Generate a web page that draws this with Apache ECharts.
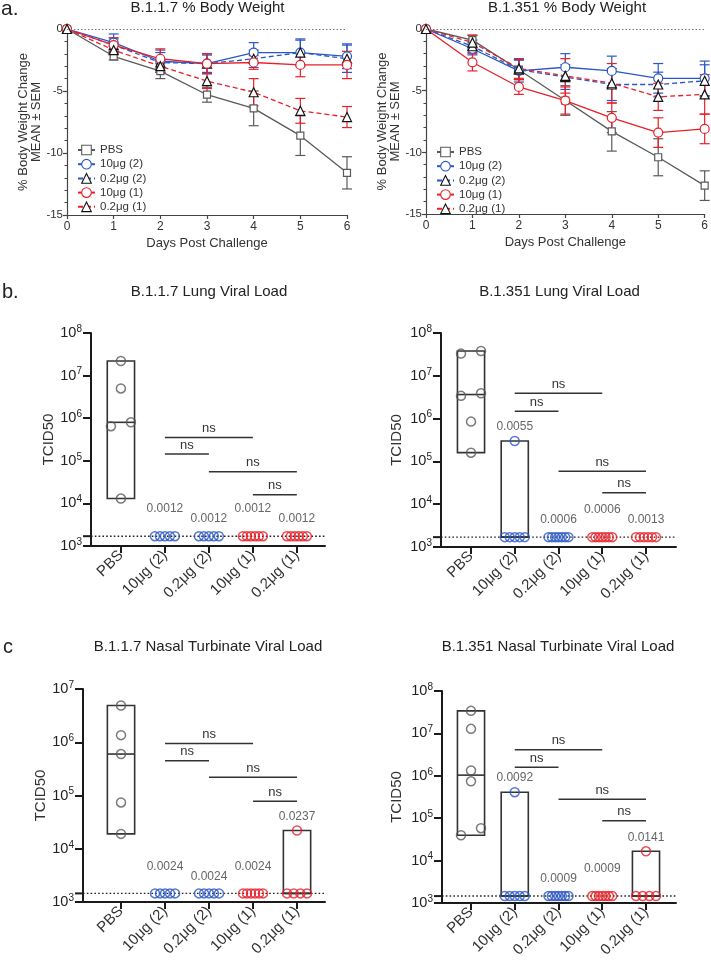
<!DOCTYPE html>
<html><head><meta charset="utf-8">
<script src="https://cdn.jsdelivr.net/npm/echarts@6/dist/echarts.min.js"></script>
<style>html,body{margin:0;padding:0;background:#fff}#c{width:711px;height:960px}</style>
</head><body><div id="c"></div>
<script>
// ---------------- data ----------------
const days = [0, 1, 2, 3, 4, 5, 6];
const groupNames = ['PBS', '10μg (2)', '0.2μg (2)', '10μg (1)', '0.2μg (1)'];

// B.1.1.7 % body weight (mean, SEM)
const bw117PBS = [0, -2.2, -3.4, -5.3, -6.4, -8.6, -11.6];
const bw117PBSsem = [0, 0.3, 0.6, 0.6, 1.4, 1.6, 1.3];
const bw117H2 = [0, -1.1, -2.6, -2.8, -1.9, -1.9, -2.2];
const bw117H2sem = [0, 0.7, 0.9, 0.8, 0.8, 1.1, 1.0];
const bw117L2 = [0, -1.3, -2.7, -2.8, -2.4, -1.9, -2.4];
const bw117L2sem = [0, 0.5, 0.8, 0.7, 0.7, 1.0, 1.1];
const bw117H1 = [0, -1.3, -2.4, -2.8, -2.7, -2.9, -2.9];
const bw117H1sem = [0, 0.6, 0.8, 0.8, 0.55, 0.95, 1.1];
const bw117L1 = [0, -1.7, -3.0, -4.2, -5.1, -6.6, -7.1];
const bw117L1sem = [0, 0.3, 0.5, 0.6, 1.1, 1.0, 0.85];

// B.1.351 % body weight (mean, SEM)
const bw351PBS = [0, -0.9, -3.3, -5.8, -8.3, -10.4, -12.7];
const bw351PBSsem = [0, 0.4, 0.8, 1.2, 1.6, 1.5, 1.2];
const bw351H2 = [0, -1.6, -3.4, -3.1, -3.4, -4.0, -4.0];
const bw351H2sem = [0, 0.5, 0.9, 1.1, 1.2, 1.2, 1.4];
const bw351L2 = [0, -1.4, -3.3, -3.9, -4.5, -4.5, -4.2];
const bw351L2sem = [0, 0.5, 0.8, 1.0, 1.3, 1.0, 1.3];
const bw351H1 = [0, -2.7, -4.7, -5.8, -7.2, -8.4, -8.1];
const bw351H1sem = [0, 0.7, 0.6, 1.1, 1.2, 1.2, 1.2];
const bw351L1 = [0, -1.1, -3.2, -3.8, -4.4, -5.5, -5.3];
const bw351L1sem = [0, 0.6, 0.8, 1.4, 1.6, 1.1, 1.6];

// detection limits
const lodLung = 1700;
const lodNasal = 1450;

// B.1.1.7 lung TCID50
const lung117PBS = [2.2e7, 5.0e6, 8.0e5, 6.5e5, 1.3e4];
const lung117H2 = [1700, 1700, 1700, 1700, 1700];
const lung117L2 = [1700, 1700, 1700, 1700, 1700];
const lung117H1 = [1700, 1700, 1700, 1700, 1700, 1700];
const lung117L1 = [1700, 1700, 1700, 1700, 1700, 1700];
const lung117P = ['', '0.0012', '0.0012', '0.0012', '0.0012'];
const lung117NS = [[1, 3, 3.5e5], [1, 2, 1.44e5], [2, 4, 5.5e4], [3, 4, 1.6e4]];

// B.1.351 lung TCID50
const lung351PBS = [3.3e7, 3.8e7, 3.4e6, 3.9e6, 8.5e5, 1.6e5];
const lung351H2 = [3.0e5, 1700, 1700, 1700, 1700, 1700];
const lung351L2 = [1700, 1700, 1700, 1700, 1700, 1700, 1700];
const lung351H1 = [1700, 1700, 1700, 1700, 1700, 1700, 1700];
const lung351L1 = [1700, 1700, 1700, 1700, 1700, 1700];
const lung351P = ['', '0.0055', '0.0006', '0.0006', '0.0013'];
const lung351NS = [[1, 3, 3.9e6], [1, 2, 1.48e6], [2, 4, 5.9e4], [3, 4, 1.86e4]];

// B.1.1.7 nasal turbinate TCID50
const nasal117PBS = [4.9e6, 1.36e6, 6.0e5, 7.4e4, 1.9e4];
const nasal117H2 = [1450, 1450, 1450, 1450, 1450];
const nasal117L2 = [1450, 1450, 1450, 1450, 1450];
const nasal117H1 = [1450, 1450, 1450, 1450, 1450, 1450];
const nasal117L1 = [2.2e4, 1450, 1450, 1450, 1450];
const nasal117P = ['', '0.0024', '0.0024', '0.0024', '0.0237'];
const nasal117NS = [[1, 3, 9.5e5], [1, 2, 4.47e5], [2, 4, 2.2e5], [3, 4, 7.8e4]];

// B.1.351 nasal turbinate TCID50
const nasal351PBS = [3.4e7, 1.28e7, 1.33e6, 7.4e5, 5.8e4, 3.95e4];
const nasal351H2 = [4.1e5, 1450, 1450, 1450, 1450, 1450];
const nasal351L2 = [1450, 1450, 1450, 1450, 1450, 1450, 1450];
const nasal351H1 = [1450, 1450, 1450, 1450, 1450, 1450, 1450];
const nasal351L1 = [1.65e4, 1450, 1450, 1450, 1450];
const nasal351P = ['', '0.0092', '0.0009', '0.0009', '0.0141'];
const nasal351NS = [[1, 3, 4.1e6], [1, 2, 1.58e6], [2, 4, 2.8e5], [3, 4, 8.7e4]];

// ---------------- styles ----------------
const FONT = '"Liberation Sans", Arial, Helvetica, sans-serif';
const GRAY = '#5a5a5a', BLUE = '#2a57c4', RED = '#e8202a', INK = '#1a1a1a', TXT = '#333';
const lineLook = [
  { color: GRAY, symbol: 'rect', size: 7, dash: 'solid', border: GRAY },
  { color: BLUE, symbol: 'circle', size: 9, dash: 'solid', border: BLUE },
  { color: BLUE, symbol: 'triangle', size: 9, dash: [5, 3], border: '#111' },
  { color: RED, symbol: 'circle', size: 9, dash: 'solid', border: RED },
  { color: RED, symbol: 'triangle', size: 9, dash: [5, 3], border: '#111' }
];
const groupColors = [GRAY, BLUE, BLUE, RED, RED];

const grids = [
  { left: 67, top: 29, width: 280, height: 186 },
  { left: 426, top: 29, width: 281, height: 185 },
  { left: 91, top: 333, width: 234, height: 213 },
  { left: 441, top: 333, width: 235, height: 214 },
  { left: 83, top: 689, width: 242, height: 213 },
  { left: 442, top: 691, width: 234, height: 213 }
];

// ---------------- builders ----------------
function bwSeries(gi, sets) {
  const out = [];
  sets.forEach(([m, s], k) => {
    const st = lineLook[k];
    out.push({
      type: 'custom', name: 'err' + gi + '-' + k, xAxisIndex: gi, yAxisIndex: gi, z: 2, silent: true,
      data: days.map((d, i) => [d, m[i], s[i]]), encode: { x: 0, y: 1 },
      renderItem: (p, api) => {
        const x = api.value(0), mm = api.value(1), ss = api.value(2);
        if (!ss) return;
        const t = api.coord([x, mm + ss]), b = api.coord([x, mm - ss]);
        const ls = { stroke: st.color, lineWidth: 1.2 };
        return { type: 'group', children: [
          { type: 'line', shape: { x1: t[0], y1: t[1], x2: b[0], y2: b[1] }, style: ls },
          { type: 'line', shape: { x1: t[0] - 5, y1: t[1], x2: t[0] + 5, y2: t[1] }, style: ls },
          { type: 'line', shape: { x1: b[0] - 5, y1: b[1], x2: b[0] + 5, y2: b[1] }, style: ls }
        ] };
      }
    });
    const ser = {
      type: 'line', name: groupNames[k], xAxisIndex: gi, yAxisIndex: gi, z: 3,
      data: days.map((d, i) => [d, m[i]]),
      symbol: st.symbol, symbolSize: st.size, showSymbol: true,
      lineStyle: { color: st.color, width: 1.3, type: st.dash },
      itemStyle: { color: '#fff', borderColor: st.border, borderWidth: 1.2 },
      emphasis: { disabled: true }
    };
    if (k === 0) {
      ser.markLine = { silent: true, symbol: ['none', 'none'], label: { show: false },
        lineStyle: { type: [1.5, 2], color: '#777', width: 1 }, data: [{ yAxis: 0 }] };
    }
    out.push(ser);
  });
  return out;
}

function swarmOffsets(vals) {
  const idx = vals.map((v, i) => i).sort((a, b) => vals[a] - vals[b]);
  const clusters = []; let cur = [idx[0]];
  for (let k = 1; k < idx.length; k++) {
    const prev = vals[cur[cur.length - 1]], v = vals[idx[k]];
    if (Math.log10(v) - Math.log10(prev) < 0.2) cur.push(idx[k]);
    else { clusters.push(cur); cur = [idx[k]]; }
  }
  clusters.push(cur);
  const off = vals.map(() => 0);
  clusters.forEach(c => {
    if (c.length > 1) c.forEach((j, n) => { off[j] = -10 + 20 * n / (c.length - 1); });
  });
  return off;
}

function median(vals) {
  const s = [...vals].sort((a, b) => a - b), n = s.length;
  return n % 2 ? s[(n - 1) / 2] : (s[n / 2 - 1] + s[n / 2]) / 2;
}

function vlSeries(gi, sets, lod, pvals, ns) {
  const out = [];
  out.push({
    type: 'custom', name: 'lod' + gi, xAxisIndex: gi, yAxisIndex: gi, z: 1, silent: true,
    data: [[0, lod]], encode: { x: 0, y: 1 },
    renderItem: (p, api) => {
      const cs = p.coordSys; const y = api.coord([0, api.value(1)])[1];
      return { type: 'group', children: [
        { type: 'line', shape: { x1: cs.x, y1: y, x2: cs.x + cs.width, y2: y }, style: { stroke: '#222', lineWidth: 1.4, lineDash: [1.6, 2.2] } },
        { type: 'line', shape: { x1: cs.x - 8, y1: y, x2: cs.x, y2: y }, style: { stroke: INK, lineWidth: 2 } }
      ] };
    }
  });
  const stats = sets.map((v, i) => [i, Math.min(...v), Math.max(...v), median(v)]);
  out.push({
    type: 'custom', name: 'box' + gi, xAxisIndex: gi, yAxisIndex: gi, z: 2, silent: true,
    data: stats, encode: { x: 0, y: [1, 2, 3] },
    renderItem: (p, api) => {
      const i = api.value(0), lo = api.value(1), hi = api.value(2), md = api.value(3);
      if (!(hi > lo)) return;
      const a = api.coord([i - 0.5, hi]), b = api.coord([i + 0.5, lo]);
      const w = (b[0] - a[0]) * 0.62, cx = (a[0] + b[0]) / 2;
      const ym = api.coord([i, md])[1];
      const ls = { stroke: '#333', lineWidth: 1.6, fill: 'none' };
      return { type: 'group', children: [
        { type: 'rect', shape: { x: cx - w / 2, y: a[1], width: w, height: b[1] - a[1] }, style: ls },
        { type: 'line', shape: { x1: cx - w / 2, y1: ym, x2: cx + w / 2, y2: ym }, style: ls }
      ] };
    }
  });
  sets.forEach((vals, i) => {
    const off = swarmOffsets(vals);
    out.push({
      type: 'scatter', name: 'pts' + gi + '-' + i, xAxisIndex: gi, yAxisIndex: gi, z: 3, silent: true,
      data: vals.map((v, j) => ({ value: [i, v], symbolOffset: [off[j], 0] })),
      symbol: 'circle', symbolSize: 9,
      itemStyle: { color: 'rgba(255,255,255,0)', borderColor: groupColors[i], borderWidth: 1.5 }
    });
  });
  out.push({
    type: 'custom', name: 'p' + gi, xAxisIndex: gi, yAxisIndex: gi, z: 4, silent: true,
    data: stats.map(s => [s[0], s[2], s[2] > s[1] ? 1 : 0]), encode: { x: 0, y: 1 },
    renderItem: (p, api) => {
      const txt = pvals[p.dataIndex]; if (!txt) return;
      const i = api.value(0), c = api.coord([i, api.value(1)]);
      const lift = api.value(2) ? 14 : (i % 2 === 1 ? 27 : 17);
      return { type: 'text', style: { text: txt, x: c[0], y: c[1] - lift, fill: '#666', font: '12px ' + FONT, textAlign: 'center', textVerticalAlign: 'middle' } };
    }
  });
  out.push({
    type: 'custom', name: 'ns' + gi, xAxisIndex: gi, yAxisIndex: gi, z: 4, silent: true,
    data: ns, encode: { x: [0, 1], y: 2 },
    renderItem: (p, api) => {
      const a = api.coord([api.value(0), api.value(2)]), b = api.coord([api.value(1), api.value(2)]);
      return { type: 'group', children: [
        { type: 'line', shape: { x1: a[0], y1: a[1], x2: b[0], y2: b[1] }, style: { stroke: '#333', lineWidth: 1.5 } },
        { type: 'text', style: { text: 'ns', x: (a[0] + b[0]) / 2, y: a[1] - 9, fill: TXT, font: '13px ' + FONT, textAlign: 'center', textVerticalAlign: 'middle' } }
      ] };
    }
  });
  return out;
}

// ---------------- axes ----------------
function bwX(gi) {
  return { gridIndex: gi, type: 'value', min: 0, max: 6, interval: 1,
    axisLine: { onZero: false, lineStyle: { color: '#444', width: 1.2 } },
    axisTick: { length: 4, lineStyle: { color: '#444', width: 1.2 } },
    axisLabel: { fontSize: 12, color: TXT, margin: 6 },
    splitLine: { show: false },
    name: 'Days Post Challenge', nameLocation: 'middle', nameGap: 22,
    nameTextStyle: { fontSize: 13, color: TXT } };
}
function bwY(gi) {
  return { gridIndex: gi, type: 'value', min: -15, max: 0, interval: 5,
    axisLine: { show: true, onZero: false, lineStyle: { color: '#444', width: 1.2 } },
    axisTick: { show: true, length: 4, lineStyle: { color: '#444', width: 1.2 } },
    minorTick: { show: true, splitNumber: 5, length: 2.5, lineStyle: { color: '#444', width: 1 } },
    axisLabel: { fontSize: 11.5, color: TXT, margin: 4 },
    splitLine: { show: false },
    name: '% Body Weight Change\nMEAN ± SEM', nameLocation: 'middle', nameGap: 20,
    nameTextStyle: { fontSize: 13, color: TXT, lineHeight: 13 } };
}
const catTicks = [0, 1, 2, 3, 4];
function vlX(gi, min, max) {
  return { gridIndex: gi, type: 'value', min: min, max: max,
    axisLine: { onZero: false, lineStyle: { color: INK, width: 2 } },
    axisTick: { customValues: catTicks, length: 7, lineStyle: { color: INK, width: 2 } },
    axisLabel: { customValues: catTicks, rotate: 45, fontSize: 15, color: TXT, margin: 7,
      formatter: v => groupNames[Math.round(v)] },
    splitLine: { show: false } };
}
function vlY(gi, max, decades, gap) {
  return { gridIndex: gi, type: 'log', logBase: 10, min: 1000, max: max, splitNumber: decades,
    axisLine: { show: true, onZero: false, lineStyle: { color: INK, width: 2 } },
    axisTick: { show: true, length: 8, lineStyle: { color: INK, width: 2 } },
    axisLabel: { margin: 9, formatter: v => '{b|10}{s|' + Math.round(Math.log10(v)) + '}',
      rich: { b: { fontSize: 14.5, color: '#222', fontFamily: FONT, lineHeight: 18 },
              s: { fontSize: 10, color: '#222', fontFamily: FONT, verticalAlign: 'top', lineHeight: 10 } } },
    splitLine: { show: false },
    name: 'TCID50', nameLocation: 'middle', nameGap: gap,
    nameTextStyle: { fontSize: 15, color: TXT } };
}

// ---------------- titles ----------------
function label(text, x, y, size, align) {
  return { type: 'text', x: x, y: y, silent: true,
    style: { text: text, fill: '#222', font: size + 'px ' + FONT, textAlign: align || 'center', textVerticalAlign: 'middle' } };
}

const legendBase = { orient: 'vertical', data: groupNames, itemWidth: 17, itemHeight: 12, itemGap: 2.2,
  selectedMode: false, itemStyle: { borderWidth: 1.1 },
  textStyle: { fontSize: 11.5, color: TXT, lineHeight: 12, fontFamily: FONT } };

const option = {
  animation: false,
  textStyle: { fontFamily: FONT },
  grid: grids,
  legend: [
    Object.assign({ left: 72, top: 139 }, legendBase),
    Object.assign({ left: 431, top: 141 }, legendBase)
  ],
  xAxis: [bwX(0), bwX(1), vlX(2, -0.68, 4.64), vlX(3, -0.686, 4.686), vlX(4, -0.864, 4.636), vlX(5, -0.663, 4.686)],
  yAxis: [bwY(0), bwY(1), vlY(2, 1e8, 5, 35), vlY(3, 1e8, 5, 37), vlY(4, 1e7, 4, 29), vlY(5, 1e8, 5, 38)],
  graphic: [
    label('a.', 1, 9, 21, 'left'),
    label('B.1.1.7 % Body Weight', 207.5, 8, 15),
    label('B.1.351 % Body Weight', 567, 8, 15),
    label('b.', 2, 292, 20, 'left'),
    label('B.1.1.7 Lung Viral Load', 209, 292, 15),
    label('B.1.351 Lung Viral Load', 559.5, 292, 15),
    label('c', 3, 647, 20, 'left'),
    label('B.1.1.7 Nasal Turbinate Viral Load', 208, 647, 15),
    label('B.1.351 Nasal Turbinate Viral Load', 558, 647, 15)
  ],
  series: [].concat(
    bwSeries(0, [[bw117PBS, bw117PBSsem], [bw117H2, bw117H2sem], [bw117L2, bw117L2sem], [bw117H1, bw117H1sem], [bw117L1, bw117L1sem]]),
    bwSeries(1, [[bw351PBS, bw351PBSsem], [bw351H2, bw351H2sem], [bw351L2, bw351L2sem], [bw351H1, bw351H1sem], [bw351L1, bw351L1sem]]),
    vlSeries(2, [lung117PBS, lung117H2, lung117L2, lung117H1, lung117L1], lodLung, lung117P, lung117NS),
    vlSeries(3, [lung351PBS, lung351H2, lung351L2, lung351H1, lung351L1], lodLung, lung351P, lung351NS),
    vlSeries(4, [nasal117PBS, nasal117H2, nasal117L2, nasal117H1, nasal117L1], lodNasal, nasal117P, nasal117NS),
    vlSeries(5, [nasal351PBS, nasal351H2, nasal351L2, nasal351H1, nasal351L1], lodNasal, nasal351P, nasal351NS)
  )
};

const chart = echarts.init(document.getElementById('c'), null, { renderer: 'canvas', width: 711, height: 960 });
chart.setOption(option);
</script>
</body></html>
